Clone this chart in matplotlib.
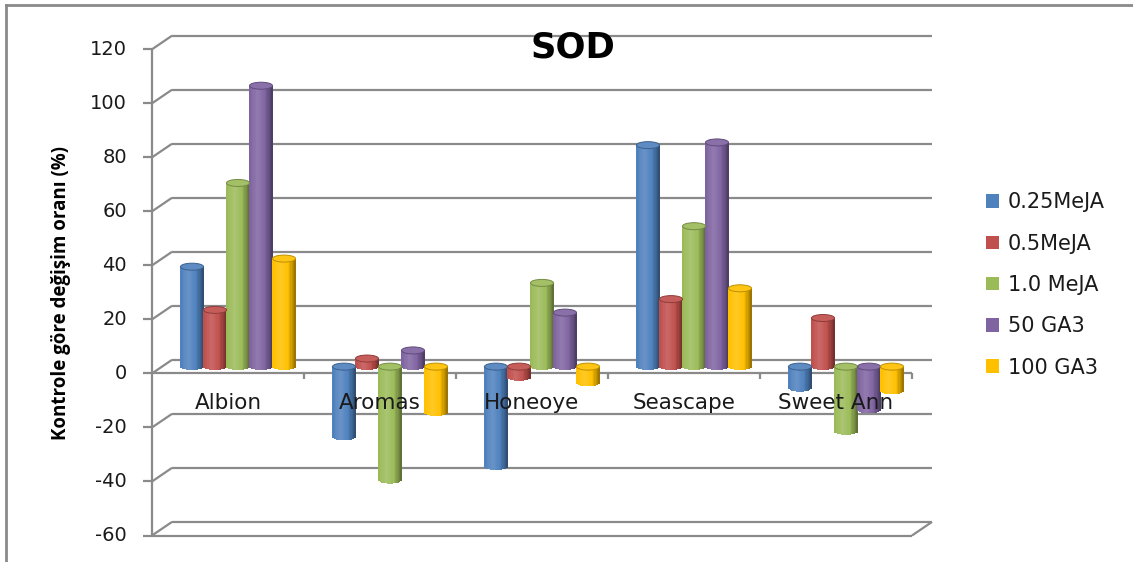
import numpy as np
import matplotlib
matplotlib.use('Agg')
import matplotlib.pyplot as plt
from matplotlib.patches import Ellipse, Patch
from matplotlib.lines import Line2D
from matplotlib.colors import to_rgb

plt.rcParams['font.family'] = ['DejaVu Sans']

# --- SOD change relative to control (%)
cultivars = ['Albion', 'Aromas', 'Honeoye', 'Seascape', 'Sweet Ann']
treatments = ['0.25MeJA', '0.5MeJA', '1.0 MeJA', '50 GA3', '100 GA3']
meja_025 = [37, -26, -37, 82, -8]
meja_05 = [21, 3, -4, 25, 18]
meja_10 = [68, -42, 31, 52, -24]
ga3_50 = [104, 6, 20, 83, -16]
ga3_100 = [40, -17, -6, 29, -9]
series = [meja_025, meja_05, meja_10, ga3_50, ga3_100]
colors = ['#4F81BD', '#C0504D', '#9BBB59', '#8064A2', '#FFC000']
yticks = np.arange(-60, 121, 20)

W, H = 1133, 562
fig = plt.figure(figsize=(W / 100, H / 100), dpi=100)

# front face of the plot box, in pixels
x0, x1 = 152, 912
y_top, y_bot = 49.3, 535.5
ax = fig.add_axes((x0 / W, 1 - y_bot / H, (x1 - x0) / W, (y_bot - y_top) / H))
ax.set_xlim(-0.5, 4.5)
ax.set_ylim(-60, 120)
ax.axis('off')

px_x = (x1 - x0) / 5.0           # pixels per category
px_y = (y_bot - y_top) / 180.0   # pixels per percent
ddx = 20 / px_x                  # depth of the back wall
ddy = 13.6 / px_y

grid = dict(color='#8a8a8a', lw=1.6, clip_on=False, zorder=1, solid_capstyle='butt')
txt = '#1a1a1a'

# back wall grid with the little slanted joints
for v in yticks:
    ax.plot([-0.5, -0.5 + ddx], [v, v + ddy], **grid)
    ax.plot([-0.5 + ddx, 4.5 + ddx], [v + ddy, v + ddy], **grid)
    ax.plot([-0.5 - 9 / px_x, -0.5], [v, v], **grid)
    ax.text(-0.5 - 25 / px_x, v, f'{v}', ha='right', va='center', fontsize=14,
            color=txt)

# value axis, floor and category axis
ax.plot([-0.5, -0.5], [-60, 120], **grid)
ax.plot([-0.5, 4.5], [-60, -60], **grid)
ax.plot([4.5, 4.5 + ddx], [-60, -60 + ddy], **grid)
ax.plot([-0.5, 4.5], [0, 0], **grid)
for k in range(1, 6):
    ax.plot([k - 0.5, k - 0.5], [0, -6 / px_y], **grid)


def shade(c, t):
    r = np.array(to_rgb(c))
    s = np.clip(1 - 2 * abs(t - 0.35) / 0.65, -1, 1)
    if s > 0:
        return r + (1 - r) * 0.15 * s
    return r * (1 + 0.42 * s)


bw = 23 / px_x
eh = 7 / px_y
nstrip = 18
base = ddy / 2
for i in range(len(cultivars)):
    for s, vals in enumerate(series):
        v = vals[i]
        c = colors[s]
        xc = i + (s - 2) * bw + ddx / 2
        top = max(v, 0) + base
        low = min(v, 0) + base
        for k in range(nstrip):
            t = (k + 0.5) / nstrip
            curve = (eh / 2) * np.sqrt(max(0.0, 1 - (2 * t - 1) ** 2))
            xs = xc + (t - 0.5) * bw
            ax.bar(xs, top - (low - curve), width=bw / nstrip * 1.08, bottom=low - curve,
                   color=shade(c, t), linewidth=0, zorder=3, clip_on=False)
        r = np.array(to_rgb(c))
        ax.add_patch(Ellipse((xc, top), bw, eh, facecolor=r + (1 - r) * 0.08,
                             edgecolor=r * 0.75, lw=0.7, zorder=4, clip_on=False))

for i, name in enumerate(cultivars):
    ax.text(i, -30 / px_y, name, ha='center', va='center', fontsize=15.5,
            color=txt, zorder=10)

fig.text(573 / W, 1 - 48 / H, 'SOD', ha='center', va='center', fontsize=25.5,
         fontweight='bold')
fig.text(61 / W, 1 - 293 / H, 'Kontrole göre değişim oranı (%)', rotation=90,
         ha='center', va='center', fontsize=13.5, fontweight='bold',
         family=['Open Sans', 'DejaVu Sans'])

handles = [Patch(facecolor=c, edgecolor='none') for c in colors]
fig.legend(handles, treatments, loc='center left', bbox_to_anchor=(967 / W, 1 - 285 / H),
           frameon=False, fontsize=15, handlelength=0.62, handleheight=0.62,
           handletextpad=0.45, labelspacing=1.02, labelcolor=txt)

# chart area border (only top and left edges fall inside the image)
fig.add_artist(Line2D([6 / W, 6 / W], [0, 1 - 5 / H], color='#8a8a8a', lw=2))
fig.add_artist(Line2D([6 / W, 1], [1 - 5 / H, 1 - 5 / H], color='#8a8a8a', lw=2))

fig.savefig('out.png', dpi=100)
